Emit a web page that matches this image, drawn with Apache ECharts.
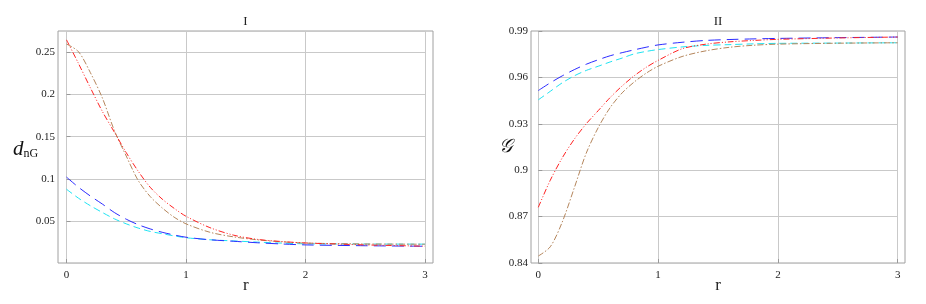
<!DOCTYPE html>
<html>
<head>
<meta charset="utf-8">
<script src="https://cdn.jsdelivr.net/npm/echarts@6/dist/echarts.min.js"></script>
<style>html,body{margin:0;padding:0;background:#fff}#c{width:926px;height:304px}</style>
</head>
<body>
<div id="c"></div>
<script>
// r sample points shared by all curves
const rVals = [0, 0.1, 0.2, 0.3, 0.4, 0.5, 0.6, 0.7, 0.8, 0.9, 1.0, 1.2, 1.4, 1.6, 1.8, 2.0, 2.5, 3.0];

// Panel I : d_nG
const dBlue  = [0.102, 0.090, 0.0795, 0.070, 0.060, 0.052, 0.0455, 0.0405, 0.0365, 0.0333, 0.0306, 0.0276, 0.0258, 0.0240, 0.0226, 0.0215, 0.0205, 0.0199];
const dCyan  = [0.0876, 0.077, 0.068, 0.060, 0.0525, 0.0465, 0.0415, 0.0375, 0.0348, 0.0322, 0.0300, 0.0276, 0.0262, 0.0248, 0.0236, 0.0228, 0.0225, 0.0224];
const dRed   = [0.265, 0.237, 0.208, 0.180, 0.1555, 0.131, 0.109, 0.090, 0.076, 0.065, 0.0555, 0.042, 0.033, 0.0280, 0.0255, 0.0238, 0.0215, 0.0200];
const dBrown = [0.260, 0.251, 0.226, 0.196, 0.1575, 0.127, 0.098, 0.079, 0.0655, 0.0545, 0.0465, 0.0365, 0.0310, 0.0275, 0.0252, 0.0237, 0.0226, 0.0223];

// Panel II : G
const gBlue  = [0.9515, 0.9565, 0.961, 0.9650, 0.9685, 0.9714, 0.9740, 0.9760, 0.9778, 0.9795, 0.9810, 0.9827, 0.9839, 0.9845, 0.9849, 0.9852, 0.9857, 0.9861];
const gCyan  = [0.9455, 0.951, 0.9565, 0.961, 0.9645, 0.9672, 0.9700, 0.9725, 0.9752, 0.9768, 0.9780, 0.9797, 0.9807, 0.9812, 0.9817, 0.9820, 0.9822, 0.9824];
const gRed   = [0.876, 0.8935, 0.908, 0.920, 0.930, 0.9385, 0.947, 0.9545, 0.961, 0.9665, 0.9710, 0.9785, 0.9815, 0.9830, 0.9839, 0.9846, 0.9855, 0.9861];
const gBrown = [0.8445, 0.8505, 0.8665, 0.8885, 0.911, 0.9275, 0.9405, 0.950, 0.957, 0.9627, 0.9672, 0.9735, 0.9772, 0.9795, 0.9808, 0.9815, 0.9821, 0.9824];

const xTicks = [0, 1, 2, 3];
const yTicksI = [0.05, 0.1, 0.15, 0.2, 0.25];
const yTicksII = [0.84, 0.87, 0.9, 0.93, 0.96, 0.99];

const zip = (ys) => rVals.map((r, i) => [r, ys[i]]);

const SERIF = '"Liberation Serif", "DejaVu Serif", serif';
const C_BLUE = '#2b2bff', C_CYAN = '#1fe3f2', C_RED = '#ff2222', C_BROWN = '#b5865c';
const DASH_BLUE = [12, 6], DASH_CYAN = [7, 4], DASH_RED = [6, 2, 1, 2, 1, 2], DASH_BROWN = [6, 2, 1.5, 2];

const frames = [
  {left: 58, top: 31, width: 375, height: 232},
  {left: 531, top: 31, width: 374, height: 232}
];
const datas = [
  {left: 66.5, top: 31, width: 358.5, height: 232},
  {left: 538.3, top: 31, width: 359.4, height: 232}
];

const grid = [];
frames.forEach(f => grid.push(Object.assign({show: true, borderColor: '#a0a0a0', borderWidth: 1, backgroundColor: 'transparent'}, f)));
datas.forEach(d => grid.push(Object.assign({show: false}, d)));

const hiddenAxis = (gi) => ({gridIndex: gi, type: 'value', show: false, min: 0, max: 1});

function dataX(gi) {
  return {
    gridIndex: gi, type: 'value', min: xTicks[0], max: xTicks[xTicks.length - 1], interval: 1,
    axisLine: {show: false},
    axisTick: {show: true, inside: true, length: 4, lineStyle: {color: '#999'}},
    axisLabel: {color: '#222', fontFamily: SERIF, fontSize: 11, margin: 7},
    splitLine: {show: true, lineStyle: {color: '#c9c9c9', width: 1}},
    name: 'r', nameLocation: 'middle', nameGap: 14, nameMoveOverlap: false,
    nameTextStyle: {fontFamily: SERIF, fontSize: 17, color: '#222'}
  };
}
function dataY(gi, min, max, interval, offset) {
  return {
    gridIndex: gi, type: 'value', min: min, max: max, interval: interval, offset: offset,
    axisLine: {show: false},
    axisTick: {show: true, inside: true, length: 4, lineStyle: {color: '#999'}},
    axisLabel: {color: '#222', fontFamily: SERIF, fontSize: 11, margin: 3, showMinLabel: min !== 0, showMaxLabel: max === 0.99,
      formatter: v => String(Math.round(v * 1000) / 1000)},
    splitLine: {show: true, lineStyle: {color: '#c9c9c9', width: 1}}
  };
}

const xAxis = [hiddenAxis(0), hiddenAxis(1), dataX(2), dataX(3)];
const yAxis = [hiddenAxis(0), hiddenAxis(1), dataY(2, 0, 0.2755, 0.05, 8.5), dataY(3, 0.84, 0.99, 0.03, 7.3)];

function line(data, xi, color, dash) {
  return {
    type: 'line', xAxisIndex: xi, yAxisIndex: xi, data: zip(data),
    smooth: 0.3, symbol: 'none', silent: true,
    lineStyle: {color: color, width: 1, type: dash}
  };
}

const series = [
  line(dCyan, 2, C_CYAN, DASH_CYAN),
  line(dBlue, 2, C_BLUE, DASH_BLUE),
  line(dBrown, 2, C_BROWN, DASH_BROWN),
  line(dRed, 2, C_RED, DASH_RED),
  line(gCyan, 3, C_CYAN, DASH_CYAN),
  line(gBlue, 3, C_BLUE, DASH_BLUE),
  line(gBrown, 3, C_BROWN, DASH_BROWN),
  line(gRed, 3, C_RED, DASH_RED)
];

const graphic = [
  {type: 'text', x: 245.5, y: 22, style: {text: 'I', font: '13px ' + SERIF, fill: '#222', textAlign: 'center', textVerticalAlign: 'middle'}},
  {type: 'text', x: 718, y: 22, style: {text: 'II', font: '13px ' + SERIF, fill: '#222', textAlign: 'center', textVerticalAlign: 'middle'}},
  {type: 'text', x: 13, y: 149, style: {
    text: '{d|d}{s|nG}', textVerticalAlign: 'middle',
    rich: {
      d: {fontFamily: SERIF, fontStyle: 'italic', fontSize: 21, fill: '#111', verticalAlign: 'bottom'},
      s: {fontFamily: SERIF, fontSize: 12, fill: '#111', verticalAlign: 'bottom', padding: [0, 0, 0, 0]}
    }
  }},
  {type: 'text', x: 506, y: 147, style: {text: '\u{1D4A2}', font: 'italic 19px ' + SERIF, fill: '#111', textAlign: 'center', textVerticalAlign: 'middle'}}
];

const chart = echarts.init(document.getElementById('c'), null, {renderer: 'canvas'});
chart.setOption({animation: false, backgroundColor: '#fff', grid, xAxis, yAxis, series, graphic});
</script>
</body>
</html>
